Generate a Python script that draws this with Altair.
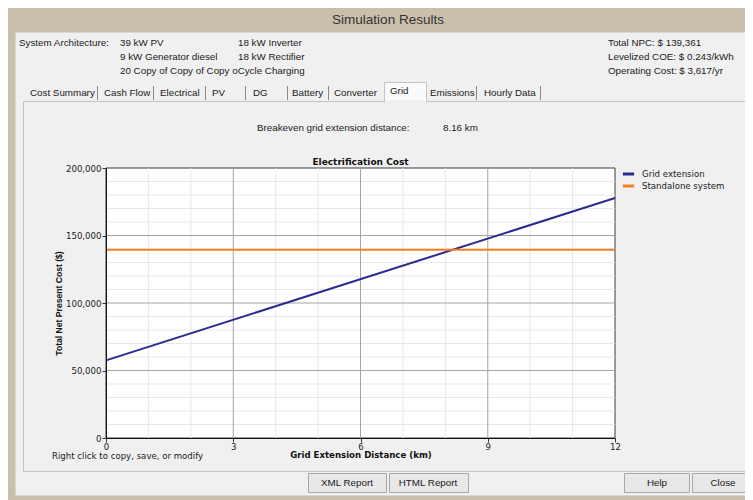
import altair as alt
import pandas as pd

# ---------------- data ----------------
distance_km = [0, 12]
grid_extension_cost = [57500, 177800]
standalone_cost = [139361, 139361]
series_names = ["Grid extension", "Standalone system"]
series_colors = ["#2b2b8f", "#f5801f"]

x_ticks = [0, 3, 6, 9, 12]
y_ticks = [0, 50000, 100000, 150000, 200000]
x_major_grid = [3, 6, 9]
x_minor_grid = [1, 2, 4, 5, 7, 8, 10, 11]
y_major_grid = [50000, 100000, 150000]
y_minor_grid = [10000, 20000, 30000, 40000, 60000, 70000, 80000, 90000,
                110000, 120000, 130000, 140000, 160000, 170000, 180000, 190000]

breakeven_km = 8.16
total_npc = 139361
levelized_coe = 0.243
operating_cost = 3617

arch_col1 = ["39 kW PV", "9 kW Generator diesel", "20 Copy of Copy of Copy oCycle Charging"]
arch_col2 = ["18 kW Inverter", "18 kW Rectifier"]
tab_names = ["Cost Summary", "Cash Flow", "Electrical", "PV", "DG", "Battery",
             "Converter", "Grid", "Emissions", "Hourly Data"]
button_names = ["XML Report", "HTML Report", "Help", "Close"]

# ---------------- layout (page pixels) ----------------
OX, OY = 106, 168          # plot-area origin on the page
W, H = 509, 270            # plot-area size
FONT = "Liberation Sans"
CFONT = "DejaVu Sans"      # chart text (slightly wide, like the reference)
TAN = "#c9bfab"
PANEL = "#f0f0f0"


def px(v):
    return v - OX


def py(v):
    return v - OY


xs = alt.Scale(domain=[0, 12], nice=False, zero=False)
ys = alt.Scale(domain=[0, 200000], nice=False, zero=True)

x_axis = alt.Axis(
    values=x_ticks, format="d", tickSize=4, labelPadding=0, labelFlush=False,
    labelFont=CFONT, labelFontSize=8.6, labelColor="#222222",
    domainColor="#111111", tickColor="#333333", grid=False, zindex=2,
    title="Grid Extension Distance (km)", titleFont=CFONT, titleFontSize=8.6,
    titleFontWeight="bold", titleColor="#111111",
    titleX=W / 2, titleY=16.5, titleAlign="center", titleBaseline="middle")
y_axis = alt.Axis(
    values=y_ticks, format=",.0f", tickSize=4, labelPadding=1,
    labelFont=CFONT, labelFontSize=8.6, labelColor="#222222",
    domainColor="#111111", tickColor="#333333", grid=False, zindex=2,
    title="Total Net Present Cost ($)", titleFont=FONT, titleFontSize=8.6,
    titleFontWeight="bold", titleColor="#111111", titleAngle=270,
    titleX=-48, titleY=H / 2, titleAlign="center", titleBaseline="middle")

# ---------------- window chrome ----------------
rect_rows = [
    # x, x2, y, y2, fill, stroke
    (8, 760, 8, 505, TAN, TAN),
    (16, 760, 33, 495, PANEL, PANEL),
    (23.5, 760, 101.5, 471.5, PANEL, "#c4c4c4"),
    (384.5, 426.5, 82.5, 103, "#fafafa", "#c4c4c4"),
    (385, 426, 101, 104, PANEL, PANEL),
    (308.5, 386.5, 473.5, 492.5, "#e8e8e8", "#a8a8a8"),
    (389.5, 468.5, 473.5, 492.5, "#e8e8e8", "#a8a8a8"),
    (624.5, 689.5, 473.5, 492.5, "#e8e8e8", "#a8a8a8"),
    (692.5, 770, 473.5, 492.5, "#e8e8e8", "#a8a8a8"),
]
rects = pd.DataFrame(
    [dict(x=px(a), x2=px(b), y=py(c), y2=py(d), fill=f, stroke=s) for a, b, c, d, f, s in rect_rows]
)
chrome_rects = alt.Chart(rects).mark_rect(strokeWidth=1).encode(
    x=alt.X("x:Q", scale=None, axis=None),
    x2="x2:Q",
    y=alt.Y("y:Q", scale=None, axis=None),
    y2="y2:Q",
    fill=alt.Fill("fill:N", scale=None, legend=None),
    stroke=alt.Stroke("stroke:N", scale=None, legend=None),
)

sep_x = [97.5, 153.5, 205.5, 245.5, 287.5, 328.5, 476.5, 540.5]
seps = pd.DataFrame(dict(x=[px(v) for v in sep_x], y=py(86), y2=py(100)))
chrome_seps = alt.Chart(seps).mark_rule(color="#8a8a8a", strokeWidth=1).encode(
    x=alt.X("x:Q", scale=None, axis=None),
    y=alt.Y("y:Q", scale=None, axis=None),
    y2="y2:Q",
)

left_text_rows = [
    ("System Architecture:", 19, 43),
    (arch_col1[0], 120, 43), (arch_col2[0], 238, 43),
    (arch_col1[1], 120, 57), (arch_col2[1], 238, 57),
    (arch_col1[2], 120, 71),
    (f"Total NPC:  $ {total_npc:,}", 608, 43),
    (f"Levelized COE:  $ {levelized_coe}/kWh", 608, 57),
    (f"Operating Cost:  $ {operating_cost:,}/yr", 608, 71),
    ("Breakeven grid extension distance:", 257, 128),
    (f"{breakeven_km} km", 443, 128),
]
tab_x = [30, 104, 160, 212, 253, 292, 334, 390, 430, 484]
for name, tx in zip(tab_names, tab_x):
    left_text_rows.append((name, tx, 91 if name == "Grid" else 93))
ltext = pd.DataFrame([dict(t=t, x=px(a), y=py(b)) for t, a, b in left_text_rows])
chrome_ltext = alt.Chart(ltext).mark_text(
    align="left", baseline="middle", font=FONT, fontSize=9.8, color="#1a1a1a"
).encode(
    x=alt.X("x:Q", scale=None, axis=None),
    y=alt.Y("y:Q", scale=None, axis=None),
    text="t:N",
)

btn_cx = [347, 428, 657, 723]
btext = pd.DataFrame([dict(t=t, x=px(a), y=py(483)) for t, a in zip(button_names, btn_cx)])
chrome_btext = alt.Chart(btext).mark_text(
    align="center", baseline="middle", font=FONT, fontSize=9.8, color="#1a1a1a"
).encode(
    x=alt.X("x:Q", scale=None, axis=None),
    y=alt.Y("y:Q", scale=None, axis=None),
    text="t:N",
)

win_title = alt.Chart(pd.DataFrame(dict(t=["Simulation Results"]))).mark_text(
    align="center", baseline="middle", font=FONT, fontSize=13.5, color="#333333"
).encode(x=alt.value(px(388)), y=alt.value(py(20)), text="t:N")

footer = alt.Chart(pd.DataFrame(dict(t=["Right click to copy, save, or modify"]))).mark_text(
    align="left", baseline="middle", font=CFONT, fontSize=8.6, color="#1a1a1a"
).encode(x=alt.value(px(52)), y=alt.value(py(456)), text="t:N")

chart_title = alt.Chart(pd.DataFrame(dict(t=["Electrification Cost"]))).mark_text(
    align="center", baseline="middle", font=CFONT, fontSize=9, fontWeight="bold", color="#111111"
).encode(x=alt.value(W / 2), y=alt.value(-6.5), text="t:N")

# ---------------- plot area ----------------
plot_bg = alt.Chart(pd.DataFrame(dict(a=[0]))).mark_rect(
    fill="white", stroke="#3a3a3a", strokeWidth=1
).encode(x=alt.value(0), x2=alt.value(W), y=alt.value(0), y2=alt.value(H))

xminor = alt.Chart(pd.DataFrame(dict(v=x_minor_grid))).mark_rule(color="#e8e8e8").encode(
    x=alt.X("v:Q", scale=xs, axis=x_axis), y=alt.value(0), y2=alt.value(H))
yminor = alt.Chart(pd.DataFrame(dict(v=y_minor_grid))).mark_rule(color="#e8e8e8").encode(
    y=alt.Y("v:Q", scale=ys, axis=y_axis), x=alt.value(0), x2=alt.value(W))
xmajor = alt.Chart(pd.DataFrame(dict(v=x_major_grid))).mark_rule(color="#a4a4a4").encode(
    x=alt.X("v:Q", scale=xs, axis=x_axis), y=alt.value(0), y2=alt.value(H))
ymajor = alt.Chart(pd.DataFrame(dict(v=y_major_grid))).mark_rule(color="#a4a4a4").encode(
    y=alt.Y("v:Q", scale=ys, axis=y_axis), x=alt.value(0), x2=alt.value(W))

lines_df = pd.concat([
    pd.DataFrame(dict(series=series_names[0], d=distance_km, cost=grid_extension_cost)),
    pd.DataFrame(dict(series=series_names[1], d=distance_km, cost=standalone_cost)),
])

lines = alt.Chart(lines_df).mark_line(strokeWidth=2).encode(
    x=alt.X("d:Q", scale=xs, axis=x_axis),
    y=alt.Y("cost:Q", scale=ys, axis=y_axis),
    color=alt.Color("series:N", scale=alt.Scale(domain=series_names, range=series_colors),
                    legend=alt.Legend(
                        title=None, orient="none", legendX=px(623), legendY=py(168.5),
                        symbolType="M-1.4,0L1.4,0", symbolSize=64, symbolStrokeWidth=3,
                        labelFont=CFONT, labelFontSize=8.6, labelColor="#222222",
                        labelOffset=8, rowPadding=-3, padding=0)),
    detail="series:N",
)

chart = alt.layer(
    chrome_rects, chrome_seps, chrome_ltext, chrome_btext, win_title, footer,
    plot_bg, xminor, yminor, xmajor, ymajor, lines, chart_title,
).properties(
    width=W, height=H,
    padding={"left": OX - 8, "top": OY - 8, "right": 745 - OX - W, "bottom": 500 - OY - H},
    autosize=alt.AutoSizeParams(type="none"),
    background="white",
).configure_view(stroke=None)

chart.save("out.html", embed_options={"renderer": "svg", "actions": False})
